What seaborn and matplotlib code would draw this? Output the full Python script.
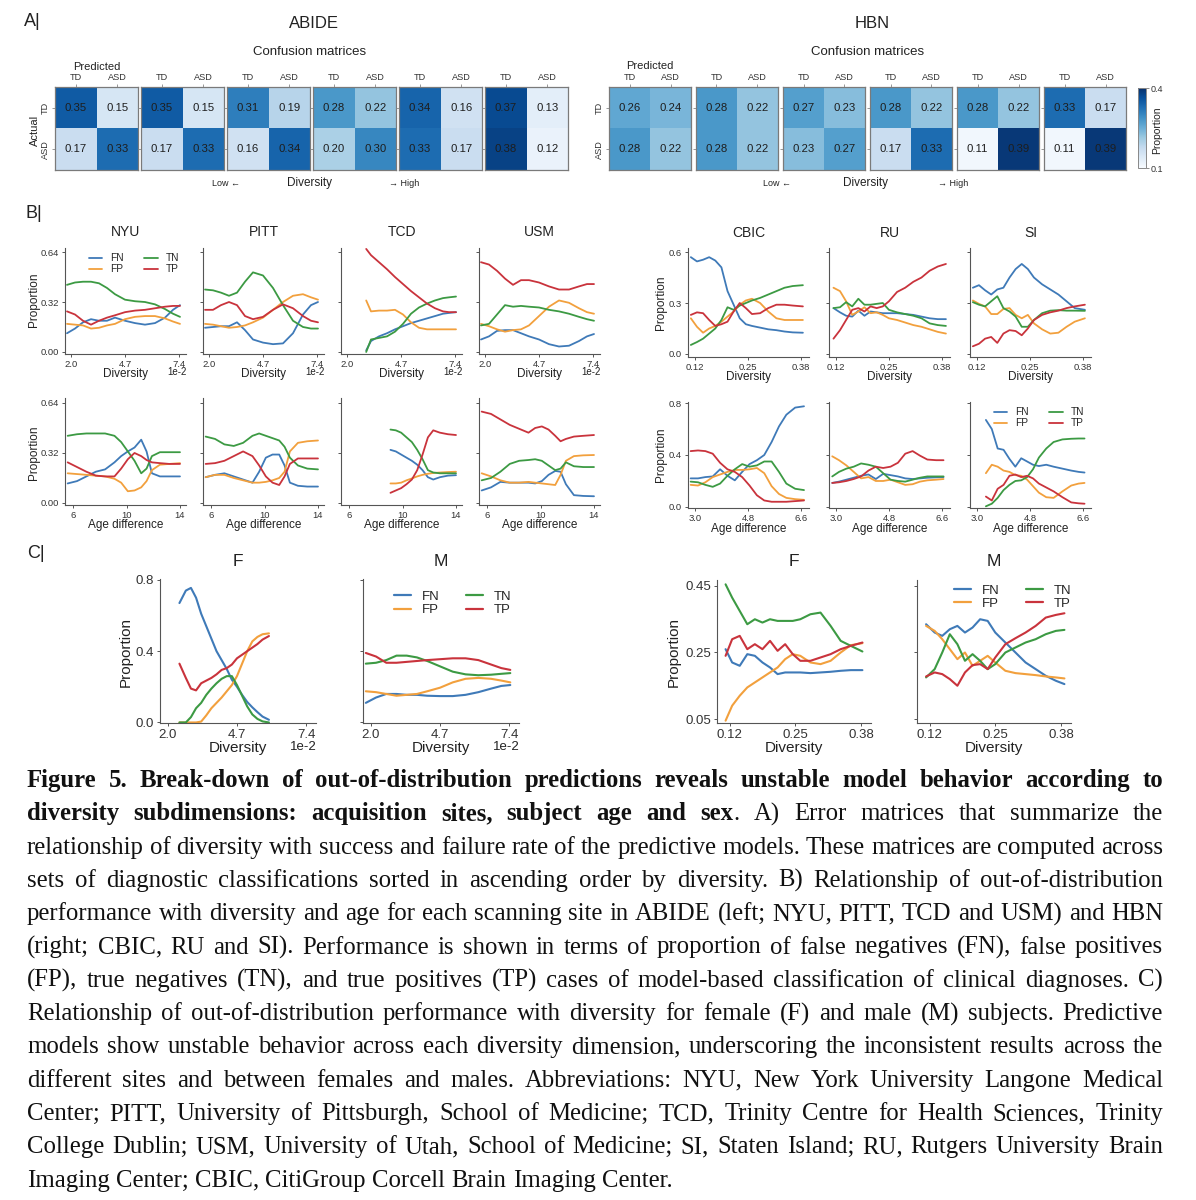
import matplotlib
matplotlib.use("Agg")
import matplotlib.pyplot as plt
from matplotlib.font_manager import FontProperties
from matplotlib.colors import Normalize
from matplotlib.cm import ScalarMappable
from matplotlib.lines import Line2D
import seaborn as sns
import pandas as pd

W, H = 1196, 1200

# ---------------- data ----------------
LABELS = ["TD", "ASD"]
ABIDE_CM = [
    [[0.35, 0.15], [0.17, 0.33]],
    [[0.35, 0.15], [0.17, 0.33]],
    [[0.31, 0.19], [0.16, 0.34]],
    [[0.28, 0.22], [0.20, 0.30]],
    [[0.34, 0.16], [0.33, 0.17]],
    [[0.37, 0.13], [0.38, 0.12]],
]
HBN_CM = [
    [[0.26, 0.24], [0.28, 0.22]],
    [[0.28, 0.22], [0.28, 0.22]],
    [[0.27, 0.23], [0.23, 0.27]],
    [[0.28, 0.22], [0.17, 0.33]],
    [[0.28, 0.22], [0.11, 0.39]],
    [[0.33, 0.17], [0.11, 0.39]],
]

OUTCOMES = ["FN", "FP", "TN", "TP"]
COLORS = {"FN": "#3f7ab8", "FP": "#f2a03d", "TN": "#3c9a43", "TP": "#c9333c"}

# ABIDE diversity (x in units of 1e-2)
ABIDE_DIV_X = [1.8, 2.2, 2.6, 3.0, 3.4, 3.8, 4.2, 4.7, 5.2, 5.7, 6.2, 6.7, 7.1, 7.45]
NYU_DIV = {
    "FN": [0.12, 0.15, 0.19, 0.21, 0.20, 0.20, 0.22, 0.20, 0.185, 0.175, 0.185, 0.22, 0.27, 0.30],
    "FP": [0.18, 0.175, 0.17, 0.15, 0.155, 0.17, 0.18, 0.21, 0.225, 0.23, 0.23, 0.215, 0.195, 0.18],
    "TN": [0.43, 0.445, 0.45, 0.45, 0.44, 0.41, 0.37, 0.335, 0.325, 0.32, 0.305, 0.275, 0.245, 0.225],
    "TP": [0.26, 0.24, 0.20, 0.175, 0.20, 0.22, 0.235, 0.255, 0.265, 0.27, 0.28, 0.29, 0.295, 0.295],
}
PITT_DIV = {
    "FN": [0.155, 0.16, 0.165, 0.165, 0.19, 0.14, 0.08, 0.06, 0.05, 0.055, 0.12, 0.24, 0.30, 0.32],
    "FP": [0.18, 0.175, 0.165, 0.155, 0.16, 0.17, 0.19, 0.22, 0.27, 0.32, 0.36, 0.37, 0.35, 0.335],
    "TN": [0.40, 0.395, 0.38, 0.36, 0.38, 0.45, 0.51, 0.49, 0.41, 0.30, 0.20, 0.16, 0.15, 0.15],
    "TP": [0.27, 0.27, 0.30, 0.32, 0.30, 0.23, 0.21, 0.225, 0.27, 0.305, 0.28, 0.23, 0.20, 0.19],
}
TCD_DIV_X = [2.96, 3.2, 3.6, 4.0, 4.4, 4.8, 5.2, 5.6, 6.0, 6.4, 6.8, 7.1, 7.45]
TCD_DIV = {
    "FN": [0.01, 0.07, 0.10, 0.12, 0.145, 0.165, 0.185, 0.20, 0.215, 0.23, 0.245, 0.25, 0.255],
    "FP": [0.33, 0.26, 0.265, 0.265, 0.27, 0.24, 0.19, 0.155, 0.145, 0.145, 0.145, 0.145, 0.145],
    "TN": [0.0, 0.08, 0.09, 0.10, 0.13, 0.18, 0.245, 0.285, 0.31, 0.33, 0.345, 0.35, 0.355],
    "TP": [0.66, 0.62, 0.575, 0.53, 0.48, 0.435, 0.39, 0.35, 0.31, 0.28, 0.26, 0.255, 0.255],
}
USM_DIV = {
    "FN": [0.08, 0.10, 0.135, 0.14, 0.14, 0.12, 0.10, 0.08, 0.05, 0.035, 0.04, 0.07, 0.10, 0.115],
    "FP": [0.18, 0.165, 0.145, 0.13, 0.14, 0.145, 0.17, 0.23, 0.29, 0.33, 0.315, 0.28, 0.255, 0.245],
    "TN": [0.17, 0.18, 0.24, 0.30, 0.29, 0.295, 0.29, 0.285, 0.27, 0.26, 0.245, 0.225, 0.21, 0.20],
    "TP": [0.575, 0.56, 0.52, 0.47, 0.43, 0.46, 0.46, 0.445, 0.42, 0.40, 0.40, 0.42, 0.435, 0.435],
}

# ABIDE age difference
ABIDE_AGE_X = [5.6, 6.3, 7.0, 7.7, 8.4, 9.1, 9.6, 10.1, 10.6, 11.1, 11.5, 11.9, 12.5, 13.2, 14.0]
NYU_AGE = {
    "FN": [0.125, 0.14, 0.17, 0.20, 0.215, 0.26, 0.30, 0.33, 0.355, 0.405, 0.33, 0.19, 0.17, 0.17, 0.17],
    "FP": [0.19, 0.185, 0.18, 0.175, 0.17, 0.155, 0.13, 0.075, 0.08, 0.10, 0.14, 0.21, 0.245, 0.25, 0.255],
    "TN": [0.43, 0.44, 0.445, 0.445, 0.445, 0.43, 0.39, 0.33, 0.27, 0.19, 0.22, 0.30, 0.325, 0.325, 0.325],
    "TP": [0.26, 0.23, 0.20, 0.175, 0.17, 0.17, 0.22, 0.28, 0.32, 0.30, 0.275, 0.26, 0.255, 0.25, 0.25],
}
PITT_AGE = {
    "FN": [0.165, 0.18, 0.19, 0.17, 0.15, 0.13, 0.20, 0.29, 0.31, 0.31, 0.24, 0.13, 0.11, 0.105, 0.105],
    "FP": [0.165, 0.18, 0.18, 0.16, 0.145, 0.13, 0.13, 0.135, 0.145, 0.16, 0.20, 0.33, 0.385, 0.395, 0.40],
    "TN": [0.425, 0.41, 0.375, 0.365, 0.385, 0.43, 0.445, 0.43, 0.415, 0.40, 0.36, 0.29, 0.24, 0.22, 0.215],
    "TP": [0.25, 0.255, 0.27, 0.30, 0.33, 0.30, 0.24, 0.17, 0.13, 0.115, 0.17, 0.25, 0.285, 0.285, 0.285],
}
TCD_AGE_X = [9.1, 9.5, 9.9, 10.3, 10.7, 11.1, 11.5, 11.9, 12.3, 12.8, 13.4, 14.0]
TCD_AGE = {
    "FN": [0.34, 0.33, 0.31, 0.29, 0.27, 0.245, 0.21, 0.165, 0.15, 0.165, 0.175, 0.178],
    "FP": [0.125, 0.125, 0.13, 0.145, 0.157, 0.17, 0.18, 0.187, 0.192, 0.195, 0.198, 0.20],
    "TN": [0.47, 0.465, 0.45, 0.42, 0.39, 0.34, 0.28, 0.21, 0.195, 0.19, 0.19, 0.19],
    "TP": [0.065, 0.08, 0.095, 0.12, 0.15, 0.21, 0.31, 0.42, 0.465, 0.45, 0.44, 0.435],
}
USM_AGE = {
    "FN": [0.08, 0.10, 0.135, 0.13, 0.13, 0.13, 0.125, 0.14, 0.18, 0.205, 0.20, 0.12, 0.05, 0.045, 0.043],
    "FP": [0.19, 0.17, 0.145, 0.13, 0.13, 0.135, 0.13, 0.125, 0.12, 0.115, 0.18, 0.27, 0.30, 0.305, 0.307],
    "TN": [0.145, 0.16, 0.20, 0.25, 0.27, 0.275, 0.28, 0.27, 0.24, 0.21, 0.22, 0.26, 0.235, 0.23, 0.23],
    "TP": [0.585, 0.57, 0.535, 0.50, 0.475, 0.45, 0.48, 0.49, 0.47, 0.43, 0.395, 0.41, 0.425, 0.43, 0.435],
}

# HBN diversity
HBN_DIV_X = [0.11, 0.125, 0.14, 0.155, 0.17, 0.185, 0.2, 0.215, 0.23, 0.245, 0.26, 0.28, 0.30, 0.32, 0.34, 0.36, 0.385]
CBIC_DIV = {
    "FN": [0.57, 0.545, 0.555, 0.57, 0.55, 0.51, 0.37, 0.29, 0.21, 0.175, 0.165, 0.155, 0.145, 0.14, 0.132, 0.127, 0.125],
    "FP": [0.21, 0.16, 0.125, 0.15, 0.165, 0.19, 0.22, 0.25, 0.29, 0.315, 0.325, 0.30, 0.25, 0.21, 0.20, 0.20, 0.20],
    "TN": [0.053, 0.07, 0.09, 0.12, 0.15, 0.20, 0.275, 0.26, 0.285, 0.30, 0.315, 0.33, 0.35, 0.37, 0.39, 0.40, 0.405],
    "TP": [0.23, 0.245, 0.24, 0.20, 0.165, 0.175, 0.19, 0.25, 0.30, 0.27, 0.235, 0.24, 0.27, 0.29, 0.29, 0.285, 0.28],
}
RU_DIV_X = [0.114, 0.13, 0.145, 0.16, 0.175, 0.19, 0.205, 0.22, 0.235, 0.25, 0.27, 0.29, 0.31, 0.33, 0.35, 0.37, 0.39]
RU_DIV = {
    "FN": [0.27, 0.245, 0.225, 0.22, 0.255, 0.225, 0.25, 0.245, 0.24, 0.24, 0.24, 0.235, 0.23, 0.22, 0.21, 0.205, 0.205],
    "FP": [0.39, 0.37, 0.31, 0.23, 0.25, 0.275, 0.24, 0.245, 0.23, 0.21, 0.20, 0.185, 0.17, 0.16, 0.145, 0.13, 0.12],
    "TN": [0.27, 0.275, 0.305, 0.28, 0.325, 0.29, 0.29, 0.295, 0.30, 0.26, 0.245, 0.235, 0.225, 0.21, 0.18, 0.17, 0.165],
    "TP": [0.09, 0.14, 0.20, 0.26, 0.27, 0.25, 0.28, 0.27, 0.28, 0.31, 0.365, 0.39, 0.425, 0.45, 0.49, 0.515, 0.53],
}
SI_DIV = {
    "FN": [0.39, 0.405, 0.375, 0.35, 0.38, 0.39, 0.45, 0.50, 0.53, 0.50, 0.45, 0.41, 0.38, 0.35, 0.31, 0.27, 0.26],
    "FP": [0.315, 0.295, 0.28, 0.235, 0.235, 0.265, 0.27, 0.23, 0.21, 0.23, 0.18, 0.145, 0.12, 0.125, 0.16, 0.19, 0.21],
    "TN": [0.305, 0.29, 0.28, 0.31, 0.34, 0.27, 0.25, 0.22, 0.16, 0.16, 0.20, 0.24, 0.255, 0.258, 0.255, 0.255, 0.254],
    "TP": [0.045, 0.06, 0.09, 0.10, 0.065, 0.12, 0.14, 0.135, 0.11, 0.15, 0.20, 0.23, 0.245, 0.255, 0.27, 0.28, 0.29],
}

# HBN age difference
CBIC_AGE_X = [2.85, 3.1, 3.35, 3.6, 3.85, 4.1, 4.35, 4.6, 4.85, 5.1, 5.35, 5.6, 5.85, 6.1, 6.4, 6.7]
CBIC_AGE = {
    "FN": [0.22, 0.22, 0.23, 0.235, 0.29, 0.24, 0.205, 0.27, 0.33, 0.36, 0.40, 0.50, 0.62, 0.71, 0.765, 0.775],
    "FP": [0.17, 0.165, 0.19, 0.23, 0.25, 0.27, 0.285, 0.285, 0.29, 0.30, 0.26, 0.16, 0.10, 0.07, 0.06, 0.055],
    "TN": [0.195, 0.19, 0.17, 0.155, 0.18, 0.24, 0.29, 0.33, 0.31, 0.32, 0.35, 0.35, 0.27, 0.18, 0.14, 0.13],
    "TP": [0.43, 0.435, 0.43, 0.41, 0.34, 0.29, 0.27, 0.23, 0.165, 0.09, 0.05, 0.04, 0.04, 0.04, 0.045, 0.05],
}
RU_AGE_X = [2.87, 3.1, 3.35, 3.6, 3.85, 4.1, 4.35, 4.6, 4.85, 5.1, 5.35, 5.6, 5.85, 6.1, 6.4, 6.65]
RU_AGE = {
    "FN": [0.185, 0.195, 0.21, 0.225, 0.24, 0.25, 0.215, 0.255, 0.245, 0.235, 0.22, 0.215, 0.22, 0.225, 0.228, 0.23],
    "FP": [0.39, 0.36, 0.32, 0.27, 0.22, 0.23, 0.20, 0.20, 0.21, 0.19, 0.17, 0.175, 0.195, 0.205, 0.21, 0.215],
    "TN": [0.235, 0.27, 0.295, 0.31, 0.335, 0.325, 0.31, 0.26, 0.21, 0.20, 0.195, 0.21, 0.225, 0.235, 0.235, 0.235],
    "TP": [0.185, 0.19, 0.20, 0.215, 0.235, 0.28, 0.31, 0.30, 0.31, 0.34, 0.41, 0.43, 0.395, 0.365, 0.36, 0.36],
}
SI_AGE_X = [3.3, 3.5, 3.7, 3.9, 4.1, 4.3, 4.5, 4.7, 4.9, 5.1, 5.35, 5.6, 5.9, 6.2, 6.45, 6.65]
SI_AGE = {
    "FN": [0.67, 0.60, 0.45, 0.44, 0.37, 0.31, 0.375, 0.35, 0.325, 0.315, 0.325, 0.31, 0.295, 0.28, 0.27, 0.265],
    "FP": [0.26, 0.325, 0.31, 0.28, 0.27, 0.245, 0.24, 0.21, 0.16, 0.11, 0.075, 0.07, 0.12, 0.165, 0.18, 0.185],
    "TN": [0.005, 0.025, 0.07, 0.13, 0.17, 0.20, 0.205, 0.23, 0.29, 0.38, 0.45, 0.50, 0.52, 0.525, 0.527, 0.527],
    "TP": [0.08, 0.05, 0.14, 0.17, 0.24, 0.25, 0.23, 0.24, 0.22, 0.18, 0.15, 0.12, 0.075, 0.035, 0.028, 0.025],
}

# sex: ABIDE (x in 1e-2) and HBN
SEX_F_ABIDE_X = [2.45, 2.7, 2.9, 3.1, 3.3, 3.5, 3.7, 3.9, 4.1, 4.3, 4.5, 4.7, 4.9, 5.1, 5.3, 5.5, 5.7, 5.95]
SEX_F_ABIDE = {
    "FN": [0.67, 0.74, 0.755, 0.70, 0.61, 0.54, 0.47, 0.40, 0.35, 0.30, 0.24, 0.20, 0.155, 0.115, 0.085, 0.058, 0.033, 0.015],
    "FP": [0.0, 0.0, 0.0, 0.0, 0.005, 0.04, 0.08, 0.11, 0.14, 0.175, 0.21, 0.26, 0.33, 0.40, 0.455, 0.48, 0.495, 0.50],
    "TN": [0.0, 0.0, 0.03, 0.08, 0.11, 0.155, 0.19, 0.22, 0.245, 0.26, 0.26, 0.21, 0.15, 0.09, 0.045, 0.02, 0.006, 0.0],
    "TP": [0.33, 0.25, 0.19, 0.18, 0.22, 0.235, 0.25, 0.27, 0.295, 0.305, 0.325, 0.36, 0.38, 0.40, 0.42, 0.44, 0.465, 0.485],
}
SEX_M_ABIDE = {
    "FN": [0.11, 0.14, 0.16, 0.16, 0.155, 0.155, 0.15, 0.148, 0.148, 0.155, 0.17, 0.19, 0.205, 0.21],
    "FP": [0.175, 0.17, 0.16, 0.15, 0.155, 0.16, 0.175, 0.195, 0.225, 0.245, 0.25, 0.245, 0.235, 0.225],
    "TN": [0.33, 0.335, 0.35, 0.375, 0.375, 0.365, 0.345, 0.315, 0.285, 0.27, 0.265, 0.268, 0.273, 0.277],
    "TP": [0.39, 0.37, 0.335, 0.335, 0.34, 0.345, 0.35, 0.355, 0.36, 0.36, 0.35, 0.325, 0.305, 0.295],
}
SEX_F_HBN_X = [0.112, 0.125, 0.14, 0.155, 0.17, 0.185, 0.2, 0.215, 0.23, 0.245, 0.26, 0.28, 0.30, 0.32, 0.34, 0.36, 0.383]
SEX_F_HBN = {
    "FN": [0.26, 0.22, 0.21, 0.245, 0.24, 0.22, 0.205, 0.185, 0.19, 0.19, 0.19, 0.188, 0.19, 0.192, 0.195, 0.197, 0.197],
    "FP": [0.045, 0.09, 0.12, 0.145, 0.16, 0.175, 0.19, 0.205, 0.23, 0.245, 0.24, 0.22, 0.215, 0.225, 0.25, 0.272, 0.278],
    "TN": [0.455, 0.415, 0.375, 0.335, 0.35, 0.34, 0.35, 0.345, 0.345, 0.345, 0.35, 0.365, 0.37, 0.33, 0.285, 0.27, 0.253],
    "TP": [0.24, 0.29, 0.30, 0.26, 0.275, 0.26, 0.285, 0.255, 0.275, 0.245, 0.225, 0.225, 0.235, 0.245, 0.26, 0.27, 0.28],
}
SEX_M_HBN_X = [0.113, 0.13, 0.145, 0.16, 0.175, 0.19, 0.205, 0.22, 0.235, 0.25, 0.27, 0.29, 0.31, 0.33, 0.35, 0.37, 0.387]
SEX_M_HBN = {
    "FN": [0.335, 0.31, 0.30, 0.32, 0.33, 0.31, 0.325, 0.35, 0.345, 0.31, 0.28, 0.25, 0.22, 0.20, 0.18, 0.165, 0.155],
    "FP": [0.33, 0.315, 0.29, 0.26, 0.23, 0.25, 0.21, 0.225, 0.24, 0.22, 0.195, 0.188, 0.185, 0.182, 0.178, 0.175, 0.172],
    "TN": [0.175, 0.20, 0.25, 0.305, 0.275, 0.225, 0.245, 0.225, 0.20, 0.215, 0.25, 0.265, 0.28, 0.29, 0.305, 0.315, 0.318],
    "TP": [0.178, 0.19, 0.185, 0.17, 0.15, 0.19, 0.212, 0.215, 0.20, 0.235, 0.275, 0.293, 0.31, 0.33, 0.355, 0.363, 0.368],
}

CAPTION = [
    [("Figure 5. Break-down of out-of-distribution predictions reveals unstable model behavior according to", True)],
    [("diversity subdimensions: acquisition sites, subject age and sex", True), (". A) Error matrices that summarize the", False)],
    [("relationship of diversity with success and failure rate of the predictive models. These matrices are computed across", False)],
    [("sets of diagnostic classifications sorted in ascending order by diversity. B) Relationship of out-of-distribution", False)],
    [("performance with diversity and age for each scanning site in ABIDE (left; NYU, PITT, TCD and USM) and HBN", False)],
    [("(right; CBIC, RU and SI). Performance is shown in terms of proportion of false negatives (FN), false positives", False)],
    [("(FP), true negatives (TN), and true positives (TP) cases of model-based classification of clinical diagnoses. C)", False)],
    [("Relationship of out-of-distribution performance with diversity for female (F) and male (M) subjects. Predictive", False)],
    [("models show unstable behavior across each diversity dimension, underscoring the inconsistent results across the", False)],
    [("different sites and between females and males. Abbreviations: NYU, New York University Langone Medical", False)],
    [("Center; PITT, University of Pittsburgh, School of Medicine; TCD, Trinity Centre for Health Sciences, Trinity", False)],
    [("College Dublin; USM, University of Utah, School of Medicine; SI, Staten Island; RU, Rutgers University Brain", False)],
    [("Imaging Center; CBIC, CitiGroup Corcell Brain Imaging Center.", False)],
]

# ---------------- figure ----------------
sns.set_theme(style="ticks")
plt.rcParams["font.family"] = ["Liberation Sans", "DejaVu Sans"]

fig = plt.figure(figsize=(W / 100, H / 100), dpi=100)
fig.patch.set_facecolor("white")


def box(x0, y0, x1, y1):
    return fig.add_axes([x0 / W, 1 - y1 / H, (x1 - x0) / W, (y1 - y0) / H])


def label(x, y, s, size, **kw):
    kw.setdefault("ha", "center")
    kw.setdefault("va", "center")
    kw.setdefault("color", "#222222")
    return fig.text(x / W, 1 - y / H, s, fontsize=size, **kw)


# ---- panel A: confusion matrices ----
def draw_matrix(ax, vals, first):
    df = pd.DataFrame(vals, index=LABELS, columns=LABELS)
    sns.heatmap(df, ax=ax, cmap="Blues", vmin=0.1, vmax=0.4, cbar=False, annot=True, fmt=".2f",
                annot_kws={"fontsize": 8.2, "color": "#1e1e1e"})
    ax.xaxis.tick_top()
    ax.tick_params(axis="both", length=2, width=0.6, color="#888888", labelsize=6.6, pad=1.5,
                   labelcolor="#333333")
    ax.set_xlabel("")
    ax.set_ylabel("")
    if first:
        ax.set_yticklabels(LABELS, rotation=90, va="center")
    else:
        ax.set_yticklabels([])
    for s in ax.spines.values():
        s.set_visible(True)
        s.set_color("#7a7a7a")
        s.set_linewidth(0.9)


for k, m in enumerate(ABIDE_CM):
    draw_matrix(box(55 + 86 * k, 87, 138 + 86 * k, 170), m, k == 0)
for k, m in enumerate(HBN_CM):
    draw_matrix(box(609 + 87 * k, 87, 691 + 87 * k, 170), m, k == 0)

cax = box(1138, 88, 1146, 168)
cb = fig.colorbar(ScalarMappable(Normalize(0.1, 0.4), "Blues"), cax=cax, ticks=[0.1, 0.4])
cb.ax.tick_params(labelsize=6.5, length=2, width=0.6, pad=1, color="#777777", labelcolor="#333333")
cb.outline.set_edgecolor("#888888")
cb.outline.set_linewidth(0.7)
label(1157, 130, "Proportion", 7.5, rotation=90)

label(32, 21, "A|", 13)
for cx, name in [(314, "ABIDE"), (872, "HBN")]:
    label(cx, 24, name, 12)
    label(cx - 4, 52, "Confusion matrices", 9.5)
label(97, 67, "Predicted", 8)
label(650, 66, "Predicted", 8)
label(35, 130, "Actual", 8, rotation=90)
for lx, dx, hx in [(226, 310, 404), (777, 865, 953)]:
    label(lx, 183, "Low \u2190", 6.5)
    label(dx, 183, "Diversity", 8.5)
    label(hx, 183, "\u2192 High", 6.5)


# ---- line panels ----
def draw_lines(ax, x, series, lw):
    for k in OUTCOMES:
        sns.lineplot(x=x, y=series[k], ax=ax, color=COLORS[k], linewidth=lw,
                     sort=False, estimator=None, legend=False)


def style(ax, xlim, ylim, xticks, xtl, yticks, ytl, show_y, size):
    ax.set_xlim(xlim)
    ax.set_ylim(ylim)
    ax.set_xticks(xticks)
    ax.set_xticklabels(xtl)
    ax.set_yticks(yticks)
    ax.set_yticklabels(ytl if show_y else [])
    ax.set_xlabel("")
    ax.set_ylabel("")
    sns.despine(ax=ax)
    for s in ("left", "bottom"):
        ax.spines[s].set_color("#555555")
        ax.spines[s].set_linewidth(0.8)
    ax.tick_params(length=2.5, width=0.7, color="#555555", labelsize=size, pad=2, labelcolor="#333333")


def add_legend(ax, anchor, size, lw):
    handles = [Line2D([], [], color=COLORS[k], lw=lw) for k in OUTCOMES]
    ax.legend(handles, OUTCOMES, ncol=2, loc="upper left", bbox_to_anchor=anchor, frameon=False,
              fontsize=size, handlelength=1.3, handletextpad=0.8, columnspacing=2.0,
              labelspacing=0.1, borderpad=0, borderaxespad=0)


label(34, 213, "B|", 13)

abide_sites = [("NYU", NYU_DIV, NYU_AGE, ABIDE_DIV_X, ABIDE_AGE_X),
               ("PITT", PITT_DIV, PITT_AGE, ABIDE_DIV_X, ABIDE_AGE_X),
               ("TCD", TCD_DIV, TCD_AGE, TCD_DIV_X, TCD_AGE_X),
               ("USM", USM_DIV, USM_AGE, ABIDE_DIV_X, ABIDE_AGE_X)]
for i, (name, div, age, dx, ax_) in enumerate(abide_sites):
    x0 = 65 + 138 * i
    x1 = x0 + 121
    cx = (x0 + x1) / 2
    ax = box(x0, 248, x1, 354)
    draw_lines(ax, dx, div, 1.3)
    style(ax, (1.7, 7.75), (-0.013, 0.666), [2.0, 4.7, 7.4], ["2.0", "4.7", "7.4"],
          [0, 0.32, 0.64], ["0.00", "0.32", "0.64"], i == 0, 6.8)
    if i == 0:
        add_legend(ax, (0.2, 0.95), 7.3, 1.3)
    label(cx, 232, name, 10)
    label(cx, 374, "Diversity", 8.5)
    label(x1 + 1, 372, "1e-2", 7, ha="right")

    ax = box(x0, 398, x1, 505)
    draw_lines(ax, ax_, age, 1.3)
    style(ax, (5.4, 14.45), (-0.013, 0.672), [6, 10, 14], ["6", "10", "14"],
          [0, 0.32, 0.64], ["0.00", "0.32", "0.64"], i == 0, 6.8)
    label(cx, 525, "Age difference", 8.5)

label(34, 300, "Proportion", 8.5, rotation=90)
label(34, 453, "Proportion", 8.5, rotation=90)

hbn_sites = [("CBIC", CBIC_DIV, CBIC_AGE, HBN_DIV_X, CBIC_AGE_X),
             ("RU", RU_DIV, RU_AGE, RU_DIV_X, RU_AGE_X),
             ("SI", SI_DIV, SI_AGE, HBN_DIV_X, SI_AGE_X)]
for i, (name, div, age, dx, ax_) in enumerate(hbn_sites):
    x0 = 688 + 141 * i
    x1 = x0 + 121
    cx = (x0 + x1) / 2
    ax = box(x0, 248, x1, 357)
    draw_lines(ax, dx, div, 1.3)
    style(ax, (0.103, 0.40), (-0.018, 0.624), [0.12, 0.25, 0.38], ["0.12", "0.25", "0.38"],
          [0, 0.3, 0.6], ["0.0", "0.3", "0.6"], i == 0, 6.8)
    label(cx, 233, name, 10)
    label(cx, 377, "Diversity", 8.5)

    ax = box(x0, 402, x1, 508)
    draw_lines(ax, ax_, age, 1.3)
    style(ax, (2.76, 6.87), (-0.008, 0.808), [3.0, 4.8, 6.6], ["3.0", "4.8", "6.6"],
          [0, 0.4, 0.8], ["0.0", "0.4", "0.8"], i == 0, 6.8)
    if i == 2:
        add_legend(ax, (0.2, 0.95), 7.3, 1.3)
    label(cx, 529, "Age difference", 8.5)

label(661, 303, "Proportion", 8.5, rotation=90)
label(661, 455, "Proportion", 8.5, rotation=90)

# ---- panel C: sex ----
label(36, 553, "C|", 13)
c_left = [("F", SEX_F_ABIDE_X, SEX_F_ABIDE, 160), ("M", ABIDE_DIV_X, SEX_M_ABIDE, 363)]
for i, (name, x, series, x0) in enumerate(c_left):
    x1 = x0 + 156
    cx = (x0 + x1) / 2
    ax = box(x0, 579, x1, 723)
    draw_lines(ax, x, series, 1.5)
    style(ax, (1.69, 7.79), (-0.003, 0.805), [2.0, 4.7, 7.4], ["2.0", "4.7", "7.4"],
          [0, 0.4, 0.8], ["0.0", "0.4", "0.8"], i == 0, 9.5)
    if i == 1:
        add_legend(ax, (0.2, 0.92), 9.5, 1.6)
    label(cx, 562, name, 12.5)
    label(cx, 748, "Diversity", 11)
    label(x1 + 1, 747, "1e-2", 9.5, ha="right")
label(126, 652, "Proportion", 11, rotation=90)

c_right = [("F", SEX_F_HBN_X, SEX_F_HBN, 717), ("M", SEX_M_HBN_X, SEX_M_HBN, 917)]
for i, (name, x, series, x0) in enumerate(c_right):
    x1 = x0 + 154
    cx = (x0 + x1) / 2
    ax = box(x0, 580, x1, 723)
    draw_lines(ax, x, series, 1.5)
    style(ax, (0.095, 0.40), (0.038, 0.468), [0.12, 0.25, 0.38], ["0.12", "0.25", "0.38"],
          [0.05, 0.25, 0.45], ["0.05", "0.25", "0.45"], i == 0, 9.5)
    if i == 1:
        add_legend(ax, (0.24, 0.97), 9.5, 1.6)
    label(cx, 562, name, 12.5)
    label(cx, 748, "Diversity", 11)
label(674, 652, "Proportion", 11, rotation=90)


# ---- caption (justified) ----
def draw_caption():
    rend = fig.canvas.get_renderer()
    left, right = 27, 1163
    base = 13.0

    def props(size):
        return (FontProperties(family="Liberation Serif", size=size),
                FontProperties(family="Liberation Serif", size=size, weight="bold"))

    def width(s, fp):
        return rend.get_text_width_height_descent(s, fp, ismath=False)[0]

    def words_of(segs, reg, bold):
        words = []
        for j, (txt, b) in enumerate(segs):
            fp = bold if b else reg
            for k, p in enumerate(txt.split(" ")):
                if p == "":
                    continue
                if k == 0 and j > 0 and words and not txt.startswith(" "):
                    words[-1].append((p, fp))
                else:
                    words.append([(p, fp)])
        return words

    reg, bold = props(base)
    worst = 0
    for segs in CAPTION[:-1]:
        ws = words_of(segs, reg, bold)
        nat = sum(width(p, fp) for w in ws for p, fp in w) + width(" ", reg) * (len(ws) - 1)
        worst = max(worst, nat)
    size = base * (right - left) / worst
    reg, bold = props(size)
    space = width(" ", reg)
    for i, segs in enumerate(CAPTION):
        ws = words_of(segs, reg, bold)
        wid = [sum(width(p, fp) for p, fp in w) for w in ws]
        if i < len(CAPTION) - 1:
            gap = (right - left - sum(wid)) / (len(ws) - 1)
        else:
            gap = space
        x = left
        y = 787 + 33.3 * i
        for w, ww in zip(ws, wid):
            xx = x
            for p, fp in w:
                fig.text(xx / W, 1 - y / H, p, fontproperties=fp, ha="left", va="baseline", color="#111111")
                xx += width(p, fp)
            x += ww + gap


draw_caption()

fig.savefig("out.png", dpi=100, facecolor="white")
